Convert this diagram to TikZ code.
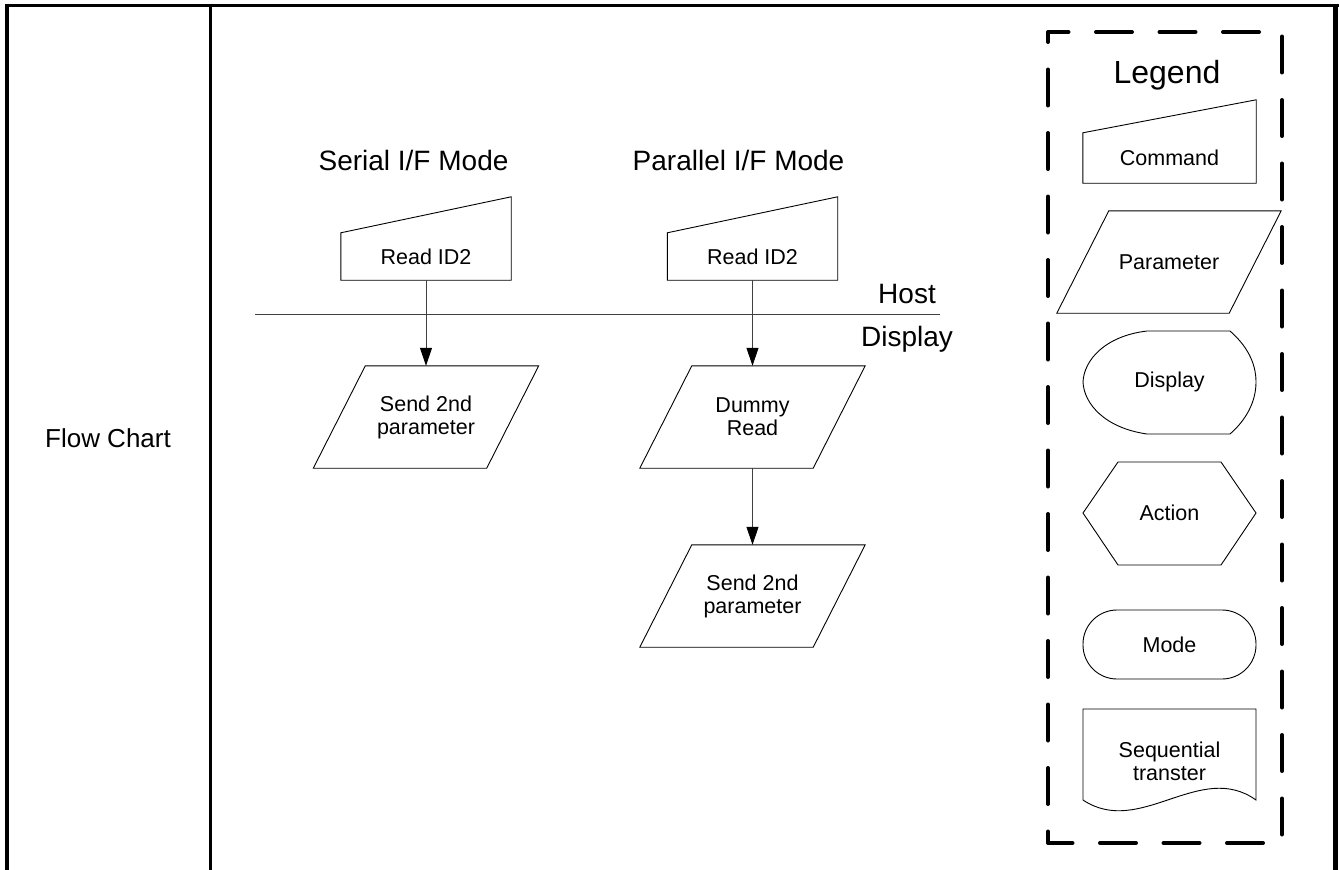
\documentclass[tikz,border=0pt]{standalone}
\usepackage{fontspec}
\setmainfont{Liberation Sans}
\usetikzlibrary{arrows.meta,calc}
\definecolor{lnc}{RGB}{64,64,64}
\newcommand\paraoutline[1]{\draw[shp] (#1.south west) -- ($(#1.north west)+(52,0)$) -- (#1.north east) -- ($(#1.south east)+(-52,0)$) -- cycle;}
\newcommand\cmdoutline[2]{\draw[shp] (#1.south west) -- (#1.south east) -- ($(#1.north east)+(0,-#2)$) -- (#1.north west) -- cycle;}
\begin{document}
\begin{tikzpicture}[x=1pt,y=-1pt,
  shp/.style={draw=black,line width=0.9pt,line join=miter},
  txt/.style={inner sep=0pt,align=center,font=\fontsize{21.5pt}{23pt}\selectfont},
  big/.style={inner sep=0pt,anchor=base,font=\fontsize{28pt}{30pt}\selectfont},
  arr/.style={draw=lnc,line width=1pt,-{Triangle[length=18pt,width=12pt,color=black]}},
  sep/.style={draw=lnc,line width=1pt},
  legbox/.style={draw=black,line width=4pt,line cap=round,line join=round,dash pattern=on 36pt off 27.5pt,dash phase=26pt}
]
\useasboundingbox (0,0) rectangle (1339,870);
% table frame
\draw[line width=3pt] (5,5) -- (1339,5);
\draw[line width=4pt] (7,3.5) -- (7,870);
\draw[line width=3pt] (210.5,3.5) -- (210.5,870);
\draw[line width=5pt] (1335.5,3.5) -- (1335.5,870);
\node[big,font=\fontsize{26pt}{28pt}\selectfont] (fc) at (108,447) {Flow Chart};

% headings
\node[big] (hs) at (413.5,170) {Serial I/F Mode};
\node[big] (hp) at (738.5,170) {Parallel I/F Mode};
\node[big] (host) at (907,303) {Host};
\node[big] (disp) at (907,346) {Display};
\coordinate (sepL) at (255,314);
\coordinate (sepR) at (940,314);
\draw[sep] (sepL) -- (sepR);

% flow chart
\node[txt,minimum width=170pt,minimum height=47pt] (cmd1) at (426,256.5) {Read ID2};
\node[txt,minimum width=170pt,minimum height=47pt] (cmd2) at (752.5,256.5) {Read ID2};
\cmdoutline{cmd1}{36}
\cmdoutline{cmd2}{36}
\node[txt,minimum width=225pt,minimum height=102pt] (p1) at (426,417) {Send 2nd\\parameter};
\node[txt,minimum width=225pt,minimum height=102pt] (p2) at (752.5,417) {Dummy\\Read};
\node[txt,minimum width=225pt,minimum height=102pt] (p3) at (752.5,596) {Send 2nd\\parameter};
\paraoutline{p1}
\paraoutline{p2}
\paraoutline{p3}
\draw[arr] (cmd1) -- (p1);
\draw[arr] (cmd2) -- (p2);
\draw[arr] (p2) -- (p3);

% legend
\draw[legbox] (1048,32) rectangle (1282,843);
\node[big,font=\fontsize{32pt}{34pt}\selectfont] (legend) at (1167,83) {Legend};
\node[txt,minimum width=173pt,minimum height=50pt] (lcmd) at (1169.5,158) {Command};
\cmdoutline{lcmd}{33}
\node[txt,minimum width=224pt,minimum height=102pt] (lpar) at (1169,262) {Parameter};
\paraoutline{lpar}
\node[txt] (ldisp) at (1169.5,382) {Display};
\draw[shp] (1147,331) -- (1230,331) .. controls (1246,345) and (1256,362) .. (1256,382)
  .. controls (1256,402) and (1246,420) .. (1230,434) -- (1147,434)
  .. controls (1105,428) and (1084,404) .. (1083,382)
  .. controls (1084,360) and (1105,336) .. (1147,331) -- cycle;
\node[txt] (lact) at (1169.5,513) {Action};
\draw[shp] (1083,513) -- (1118,462) -- (1221,462) -- (1256,513) -- (1221,565) -- (1118,565) -- cycle;
\node[txt] (lmode) at (1169.5,645) {Mode};
\draw[shp,rounded corners=34pt] (1083,610) rectangle (1256,679);
\node[txt] (lseq) at (1169.5,761) {Sequential\\transter};
\draw[shp] (1083,800) -- (1083,709) -- (1256,709) -- (1256,800)
  .. controls (1200,760) and (1140,838) .. (1083,800) -- cycle;
\end{tikzpicture}
\end{document}
